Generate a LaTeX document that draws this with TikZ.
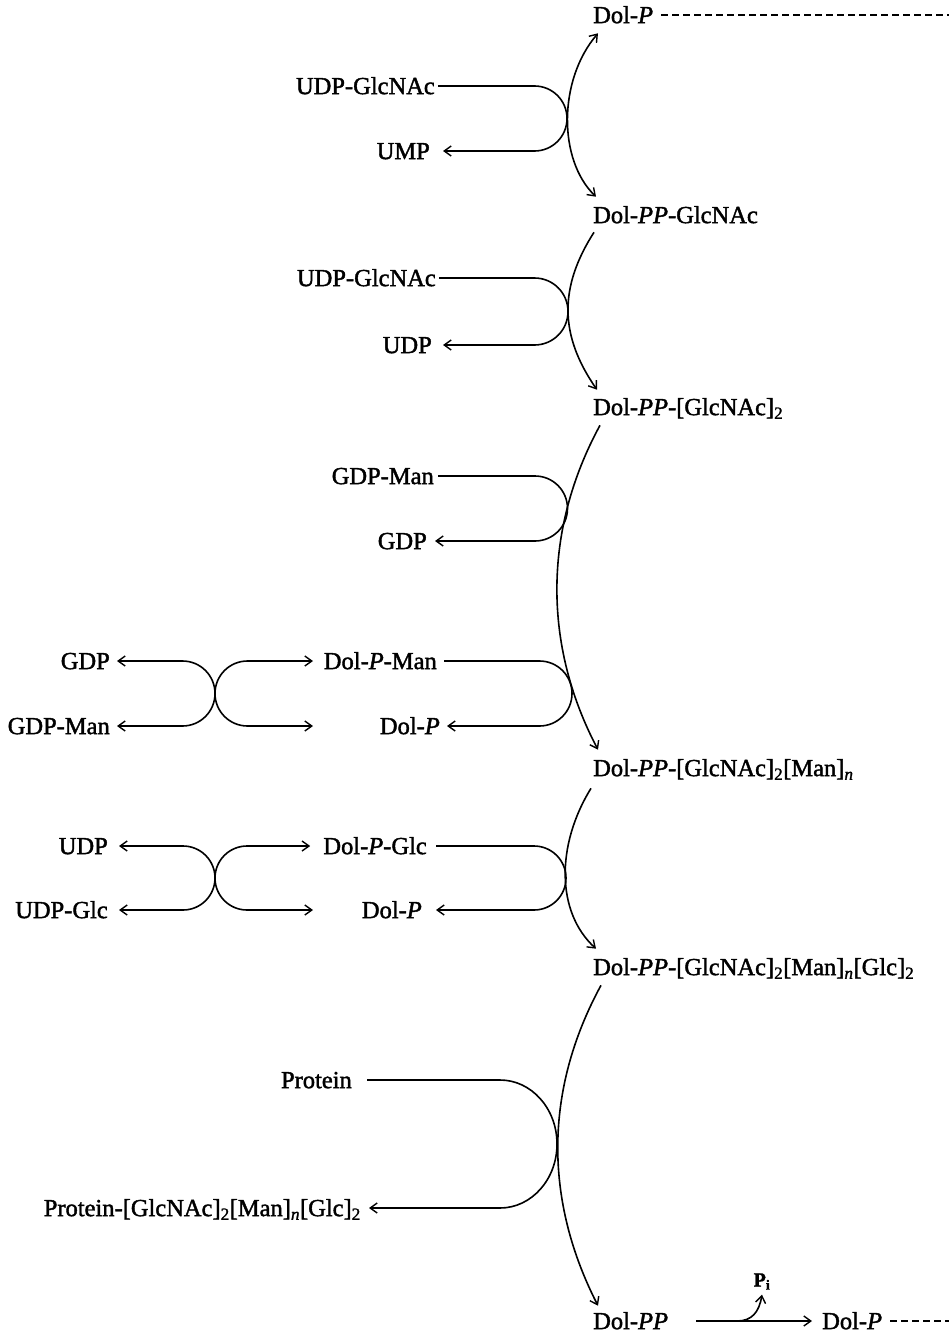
\documentclass[tikz,border=0pt]{standalone}
\usepackage{fontspec}
\setmainfont{Liberation Serif}[FakeBold=1.6]
\usetikzlibrary{arrows.meta}
\begin{document}
\begin{tikzpicture}[x=1pt,y=-1pt,
  lbl/.style={inner sep=0pt, text height=16.2pt, text depth=0pt, font=\fontsize{24.5}{28}\selectfont},
  ln/.style={line width=1.6pt},
  tip/.style={-{Straight Barb[length=7pt,width=10pt,line width=1.4pt]}},
  twotip/.style={{Straight Barb[length=7pt,width=10pt,line width=1.4pt]}-{Straight Barb[length=7pt,width=10pt,line width=1.4pt]}},
  dsh/.style={line width=1.5pt, dash pattern=on 7pt off 4pt},
]
\useasboundingbox (0,0) rectangle (949,1335);

% ---- labels ----
\node[lbl,anchor=west] (dolp0) at (593,15) {Dol-\textit{P}};
\node[lbl,anchor=east] (udpglcnac1) at (435,86) {UDP-GlcNAc};
\node[lbl,anchor=east] (ump) at (430,151) {UMP};
\node[lbl,anchor=west] (dolppglcnac) at (593,215) {Dol-\textit{PP}-GlcNAc};
\node[lbl,anchor=east] (udpglcnac2) at (436,278) {UDP-GlcNAc};
\node[lbl,anchor=east] (udp1) at (432,345) {UDP};
\node[lbl,anchor=west] (dolpp2) at (593,407) {Dol-\textit{PP}-[GlcNAc]\textsubscript{2}};
\node[lbl,anchor=east] (gdpman1) at (434,476) {GDP-Man};
\node[lbl,anchor=east] (gdp1) at (427,541) {GDP};
\node[lbl,anchor=east] (gdpL) at (110,661) {GDP};
\node[lbl,anchor=east] (dolpman) at (437,661) {Dol-\textit{P}-Man};
\node[lbl,anchor=west] (dolpmanw) at (323,661) {\phantom{Dol-\textit{P}-Man}};
\node[lbl,anchor=east] (gdpmanL) at (110,726) {GDP-Man};
\node[lbl,anchor=east] (dolp1) at (440,726) {Dol-\textit{P}};
\node[lbl,anchor=west] (dolppman) at (593,768) {Dol-\textit{PP}-[GlcNAc]\textsubscript{2}[Man]\textsubscript{\textit{n}}};
\node[lbl,anchor=east] (udpL) at (108,846) {UDP};
\node[lbl,anchor=east] (dolpglc) at (427,846) {Dol-\textit{P}-Glc};
\node[lbl,anchor=east] (udpglcL) at (108,910) {UDP-Glc};
\node[lbl,anchor=east] (dolp2) at (422,910) {Dol-\textit{P}};
\node[lbl,anchor=west] (dolppglc) at (593,967) {Dol-\textit{PP}-[GlcNAc]\textsubscript{2}[Man]\textsubscript{\textit{n}}[Glc]\textsubscript{2}};
\node[lbl,anchor=east] (protein) at (352,1080) {Protein};
\node[lbl,anchor=east] (proteinglyc) at (361,1208) {Protein-[GlcNAc]\textsubscript{2}[Man]\textsubscript{\textit{n}}[Glc]\textsubscript{2}};
\node[lbl,anchor=west] (dolpp) at (593,1321) {Dol-\textit{PP}};
\node[lbl,anchor=west] (dolpB) at (822,1321) {Dol-\textit{P}};
\node[inner sep=0pt, text height=13pt, text depth=0pt, font=\bfseries\fontsize{20}{22}\selectfont] (pi) at (762,1280) {P\textsubscript{i}};

\coordinate (dashend0) at (949,15);
\coordinate (dashend1) at (949,1321);
\coordinate (xr1) at (313,726);
\coordinate (xr2) at (313,910);
\coordinate (br) at (737,1321);

% ---- dashed lines ----
\draw[dsh] ([xshift=8pt]dolp0.east) -- (dashend0);
\draw[dsh] ([xshift=8pt]dolpB.east) -- (dashend1);

% ---- main chain arcs ----
\draw[ln,twotip] ([xshift=5pt,yshift=-10pt]dolp0.south west) .. controls (558,80) and (558,160) .. ([xshift=3pt,yshift=10pt]dolppglcnac.north west);
\draw[ln,tip] ([xshift=1pt,yshift=-9pt]dolppglcnac.south west) .. controls (559,287) and (559,335) .. ([xshift=4pt,yshift=9pt]dolpp2.north west);
\draw[ln,tip] ([xshift=7pt,yshift=-10pt]dolpp2.south west) .. controls (543,530) and (543,645) .. ([xshift=5pt,yshift=10pt]dolppman.north west);
\draw[ln,tip] ([xshift=-2pt,yshift=-12pt]dolppman.south west) .. controls (556,845) and (556,912) .. ([xshift=3pt,yshift=10pt]dolppglc.north west);
\draw[ln,tip] ([xshift=8pt,yshift=-10pt]dolppglc.south west) .. controls (544,1090) and (544,1200) .. ([xshift=5pt,yshift=7pt]dolpp.north west);

% ---- U-shaped side reactions ----
\draw[ln,tip] ([xshift=3pt]udpglcnac1.east) -- (534.5,86) arc[start angle=-90,end angle=90,radius=32.5] -- ([xshift=13pt]ump.east);
\draw[ln,tip] ([xshift=3pt]udpglcnac2.east) -- (534.5,278) arc[start angle=-90,end angle=90,radius=33.5] -- ([xshift=11pt]udp1.east);
\draw[ln,tip] ([xshift=4pt]gdpman1.east) -- (535,476) arc[start angle=-90,end angle=90,radius=32.5] -- ([xshift=8pt]gdp1.east);
\draw[ln,tip] ([xshift=7pt]dolpman.east) -- (539.5,661) arc[start angle=-90,end angle=90,radius=32.5] -- ([xshift=7pt]dolp1.east);
\draw[ln,tip] ([xshift=9pt]dolpglc.east) -- (534,846) arc[start angle=-90,end angle=90,radius=32] -- ([xshift=14pt]dolp2.east);
\draw[ln,tip] ([xshift=15pt]protein.east) -- (500,1080) arc[start angle=-90,end angle=90,x radius=57,y radius=64] -- ([xshift=8pt]proteinglyc.east);

% ---- X-shaped exchanges ----
\draw[ln,twotip] ([xshift=7pt]gdpL.east) -- (182.5,661) arc[start angle=-90,end angle=90,radius=32.5] -- ([xshift=7pt]gdpmanL.east);
\draw[ln,twotip] ([xshift=-10pt]dolpmanw.west) -- (247.5,661) arc[start angle=-90,end angle=-270,radius=32.5] -- (xr1);
\draw[ln,twotip] ([xshift=11pt]udpL.east) -- (183,846) arc[start angle=-90,end angle=90,radius=32] -- ([xshift=11pt]udpglcL.east);
\draw[ln,twotip] ([xshift=-13pt]dolpglc.west) -- (247,846) arc[start angle=-90,end angle=-270,radius=32] -- (xr2);

% ---- final step ----
\draw[ln,tip] ([xshift=28pt]dolpp.east) -- ([xshift=-10pt]dolpB.west);
\draw[ln,tip] (br) .. controls (752,1321) and (759,1312) .. ([yshift=-8pt]pi.south);
\end{tikzpicture}
\end{document}
